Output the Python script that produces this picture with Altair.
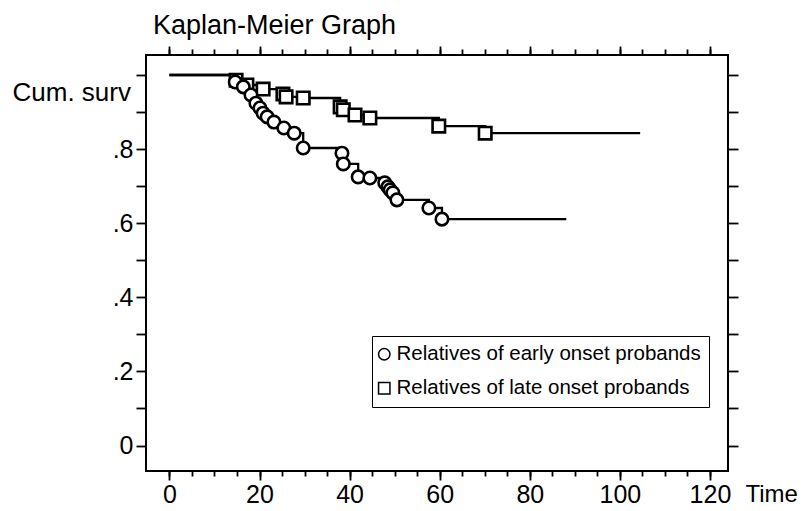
import altair as alt
import pandas as pd

early_label = "Relatives of early onset probands"
late_label = "Relatives of late onset probands"

# Kaplan-Meier steps (time, cumulative survival)
early_time = [14.6, 16.4, 18.1, 19.2, 20.1, 20.8, 21.7, 23.2, 25.4, 27.7, 29.7,
              38.3, 38.6, 41.9, 44.5, 47.8, 48.5, 49.0, 49.6, 50.5, 57.6, 60.5]
early_surv = [0.981, 0.968, 0.946, 0.924, 0.911, 0.897, 0.887, 0.873, 0.857, 0.843, 0.803,
              0.789, 0.760, 0.725, 0.722, 0.709, 0.698, 0.690, 0.682, 0.663, 0.641, 0.611]
early_end_time = 88.1

late_time = [14.8, 17.2, 20.8, 25.2, 25.9, 29.7, 37.9, 38.6, 41.2, 44.5, 59.8, 70.1]
late_surv = [0.986, 0.973, 0.962, 0.949, 0.941, 0.938, 0.914, 0.906, 0.892, 0.884, 0.862, 0.843]
late_end_time = 104.5

start_time = 0.0
start_surv = 1.0

x_major = [0, 20, 40, 60, 80, 100, 120]
x_minor = [0, 5, 10, 15, 20, 25, 30, 35, 40, 45, 50, 55, 60, 65, 70, 75, 80, 85, 90,
           95, 100, 105, 110, 115, 120]
y_ticks = [0.0, 0.1, 0.2, 0.3, 0.4, 0.5, 0.6, 0.7, 0.8, 0.9, 1.0]

FONT = "Liberation Sans"

rows = []
for g, ts, ss, end in [(early_label, early_time, early_surv, early_end_time),
                       (late_label, late_time, late_surv, late_end_time)]:
    rows.append({"group": g, "time": start_time, "surv": start_surv})
    for t, s in zip(ts, ss):
        rows.append({"group": g, "time": t, "surv": s})
    rows.append({"group": g, "time": end, "surv": ss[-1]})
line_df = pd.DataFrame(rows)

pts = []
for g, ts, ss in [(late_label, late_time, late_surv), (early_label, early_time, early_surv)]:
    for t, s in zip(ts, ss):
        pts.append({"group": g, "time": t, "surv": s})
pt_df = pd.DataFrame(pts)

x_scale = alt.Scale(domain=[-5.2, 124], nice=False, zero=False)
y_scale = alt.Scale(domain=[-0.0688, 1.054], nice=False, zero=False)
shape_scale = alt.Scale(domain=[early_label, late_label], range=["circle", "square"])

y_label_expr = ("datum.value < 0.05 ? '0' : ((datum.value > 0.95 || round(datum.value*10) % 2 == 1) "
                "? '' : substring(datum.label, 1))")

lines = alt.Chart(line_df).mark_line(
    interpolate="step-after", color="black", strokeWidth=2.3
).encode(
    x=alt.X("time:Q", scale=x_scale,
            axis=alt.Axis(orient="bottom", values=x_major, tickSize=9, domain=False,
                          labelPadding=2, title="Time", titleX=599, titleY=23,
                          titleAlign="left", titleBaseline="middle", titleAngle=0)),
    y=alt.Y("surv:Q", scale=y_scale,
            axis=alt.Axis(orient="left", values=y_ticks, tickSize=10, domain=False,
                          format=".1f", labelExpr=y_label_expr, labelPadding=3,
                          title="Cum. surv", titleAngle=0, titleX=-134, titleY=37,
                          titleAlign="left", titleBaseline="middle", titleFontSize=26)),
    detail="group:N",
)

# outline layer: carries the legend (plain unfilled symbols)
legend_pts = alt.Chart(pt_df).mark_point(
    filled=False, color="black", strokeWidth=1.5, size=150
).encode(
    x=alt.X("time:Q", scale=x_scale,
            axis=alt.Axis(orient="bottom", values=x_minor, tickSize=5, labels=False,
                          domain=False, title=None)),
    y=alt.Y("surv:Q", scale=y_scale,
            axis=alt.Axis(orient="right", values=y_ticks, tickSize=10, labels=False,
                          domain=False, title=None)),
    shape=alt.Shape("group:N", scale=shape_scale,
                    legend=alt.Legend(title=None, orient="none", legendX=226, legendY=281,
                                      strokeColor="black", fillColor="white", padding=8,
                                      labelFont=FONT, labelFontSize=20.5, labelColor="black",
                                      labelLimit=400, symbolSize=130, symbolStrokeWidth=1.5,
                                      symbolStrokeColor="black", symbolOpacity=1,
                                      symbolOffset=-6, rowPadding=13, labelOffset=2)),
)

# white-filled markers drawn on top
points = alt.Chart(pt_df).mark_point(
    filled=True, fill="white", stroke="black", strokeWidth=2.6, opacity=1, size=155
).encode(
    x=alt.X("time:Q", scale=x_scale, axis=None),
    y=alt.Y("surv:Q", scale=y_scale, axis=None),
    shape=alt.Shape("group:N", scale=shape_scale, legend=None),
)

top_minor = alt.Chart(pt_df).mark_point(size=0, strokeWidth=0).encode(
    x=alt.X("time:Q", scale=x_scale,
            axis=alt.Axis(orient="top", values=x_minor, tickSize=6, labels=False,
                          domain=False, title=None)),
    y=alt.Y("surv:Q", scale=y_scale, axis=None),
)

top_major = alt.Chart(pt_df).mark_point(size=0, strokeWidth=0).encode(
    x=alt.X("time:Q", scale=x_scale,
            axis=alt.Axis(orient="top", values=x_major, tickSize=9, labels=False,
                          domain=False, title=None)),
    y=alt.Y("surv:Q", scale=y_scale, axis=None),
)

chart = alt.layer(lines, legend_pts, points, top_minor, top_major).resolve_axis(
    x="independent", y="independent"
).properties(
    width=582, height=416,
    autosize=alt.AutoSizeParams(type="none"),
    padding={"left": 138, "top": 47, "right": 72, "bottom": 32},
    title=alt.TitleParams("Kaplan-Meier Graph", anchor="start", frame="group",
                          font=FONT, fontSize=27, fontWeight="normal", color="black",
                          dx=7, offset=5),
).configure_axis(
    labelFont=FONT, labelFontSize=25, labelColor="black",
    titleFont=FONT, titleFontSize=24, titleFontWeight="normal", titleColor="black",
    tickColor="black", tickWidth=1.8, grid=False,
).configure_view(
    stroke="black", strokeWidth=2
)

chart.save("out.html", embed_options={"renderer": "svg", "actions": False})
